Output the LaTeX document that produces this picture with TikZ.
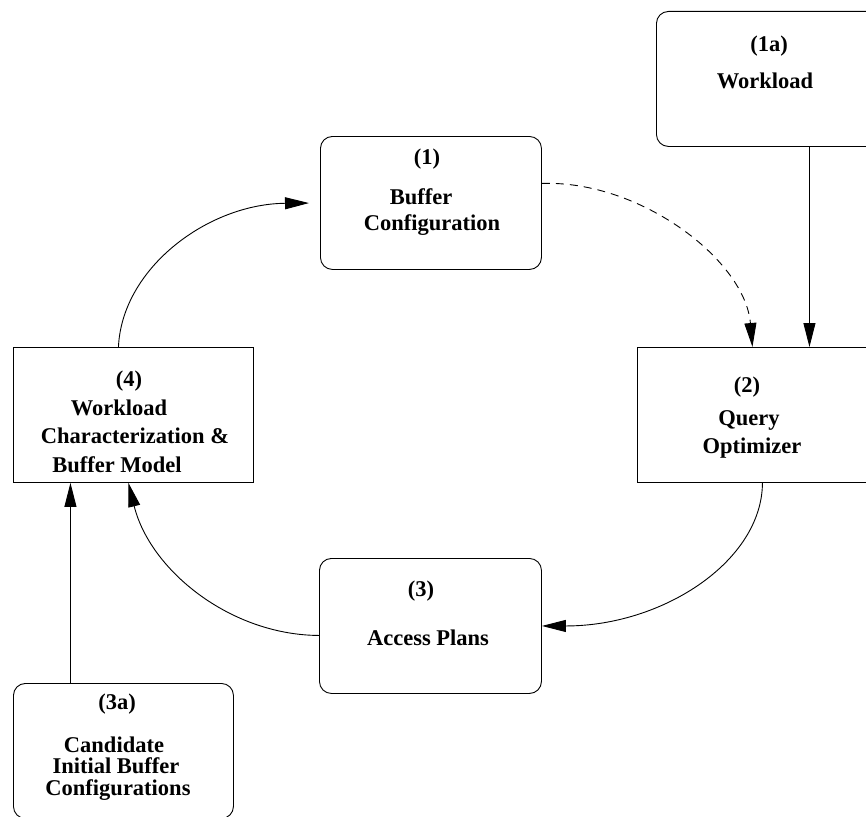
\documentclass[tikz,border=0pt]{standalone}
\usepackage{fontspec}
\setmainfont{Liberation Serif}
\usetikzlibrary{arrows.meta}
\tikzset{
  rbox/.style={draw, line width=0.9pt, rounded corners=12pt, inner sep=0pt, anchor=north west},
  sbox/.style={draw, line width=0.9pt, inner sep=0pt, anchor=north west},
  lbl/.style={font=\bfseries\fontsize{22.5}{27}\selectfont, anchor=base, inner sep=0pt},
  arr/.style={line width=0.9pt, -{Triangle[length=24pt,width=12pt]}},
}
\begin{document}
\begin{tikzpicture}[x=1pt,y=-1pt]
\useasboundingbox (0,0) rectangle (866,816);
\clip (0,0) rectangle (866,816);
% boxes
\node[rbox, minimum width=222pt, minimum height=135pt] (n1a) at (656,11) {};
\node[rbox, minimum width=221pt, minimum height=133pt] (n1) at (320,136) {};
\node[sbox, minimum width=230pt, minimum height=135pt] (n2) at (637,347) {};
\node[rbox, minimum width=222pt, minimum height=135pt] (n3) at (319,558) {};
\node[sbox, minimum width=240pt, minimum height=135pt] (n4) at (13,347) {};
\node[rbox, minimum width=220pt, minimum height=135pt] (n3a) at (13,683) {};
% labels
\node[lbl] (t1a1) at (769,52) {(1a)};
\node[lbl] (t1a2) at (765,88) {Workload};
\node[lbl] (t11) at (427,164) {(1)};
\node[lbl] (t12) at (421,204) {Buffer};
\node[lbl] (t13) at (432,230) {Configuration};
\node[lbl] (t21) at (747,392) {(2)};
\node[lbl] (t22) at (749,425) {Query};
\node[lbl] (t23) at (752,453) {Optimizer};
\node[lbl] (t31) at (421,596) {(3)};
\node[lbl] (t32) at (428,645) {Access Plans};
\node[lbl] (t41) at (129,386) {(4)};
\node[lbl] (t42) at (119,415) {Workload};
\node[lbl] (t43) at (135,443) {Characterization \&};
\node[lbl] (t44) at (117,472) {Buffer Model};
\node[lbl] (t3a1) at (117,709) {(3a)};
\node[lbl] (t3a2) at (114,752) {Candidate};
\node[lbl] (t3a3) at (116,773) {Initial Buffer};
\node[lbl] (t3a4) at (118,795) {Configurations};
% connectors
\draw[arr] ([xshift=42pt]n1a.south) -- ([xshift=57pt]n2.north);
\draw[arr, dash pattern=on 8pt off 6pt] ([yshift=19.5pt]n1.east) .. controls (640,180) and (745,260) .. (n2.north);
\draw[arr] ([xshift=10pt]n2.south) .. controls (762,561) and (663,626) .. (n3.east);
\draw[arr] ([yshift=-9.5pt]n3.west) .. controls (230,635) and (150,570) .. ([xshift=-5pt]n4.south);
\draw[arr] ([xshift=-53pt]n3a.north) -- ([xshift=-63pt]n4.south);
\draw[arr, shorten >=11pt] ([xshift=-15pt]n4.north) .. controls (122,268) and (208,204) .. (n1.west);
\end{tikzpicture}
\end{document}
